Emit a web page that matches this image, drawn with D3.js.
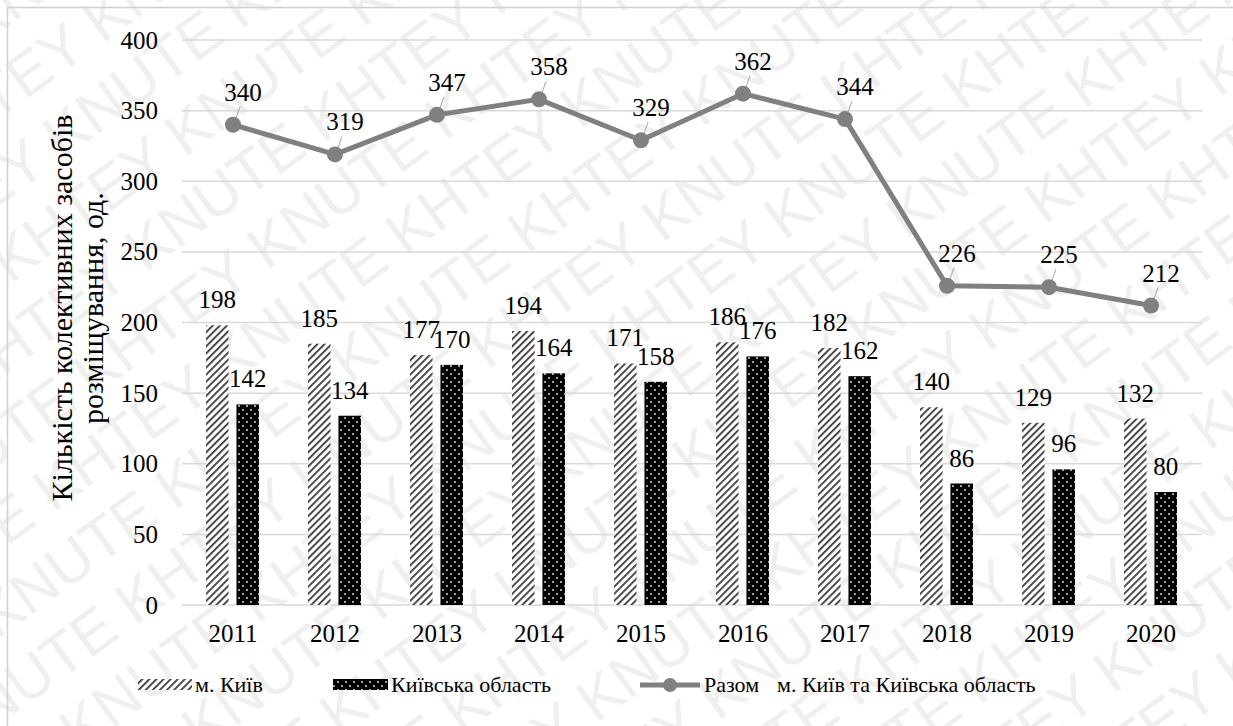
<!DOCTYPE html>
<html>
<head>
<meta charset="utf-8">
<script src="https://cdn.jsdelivr.net/npm/d3@7"></script>
<style>
  body { margin: 0; background: #fff; }
  svg { display: block; }
</style>
</head>
<body>
<div id="chart"></div>
<script>
// data
const years = ["2011", "2012", "2013", "2014", "2015", "2016", "2017", "2018", "2019", "2020"];
const kyiv = [198, 185, 177, 194, 171, 186, 182, 140, 129, 132];
const oblast = [142, 134, 170, 164, 158, 176, 162, 86, 96, 80];
const total = [340, 319, 347, 358, 329, 362, 344, 226, 225, 212];
const yTicks = [0, 50, 100, 150, 200, 250, 300, 350, 400];
const seriesNames = ["м. Київ", "Київська область"];
const lineName = "Разом";
const lineNote = "м. Київ та Київська область";
const yTitle = ["Кількість колективних засобів", "розміщування, од."];

const W = 1233, H = 726;
const serif = "'Liberation Serif', 'Times New Roman', serif";

const svg = d3.select("#chart").append("svg")
  .attr("width", W).attr("height", H)
  .style("font-family", serif);

// patterns
const defs = svg.append("defs");
const hatch = defs.append("pattern")
  .attr("id", "hatch").attr("patternUnits", "userSpaceOnUse")
  .attr("width", 5).attr("height", 5)
  .attr("patternTransform", "rotate(45)");
hatch.append("rect").attr("width", 5).attr("height", 5).attr("fill", "#fff");
hatch.append("rect").attr("width", 1.8).attr("height", 5).attr("fill", "#3a3a3a");

const dots = defs.append("pattern")
  .attr("id", "dots").attr("patternUnits", "userSpaceOnUse")
  .attr("width", 8).attr("height", 8);
dots.append("rect").attr("width", 8).attr("height", 8).attr("fill", "#000");
[[2, 2], [6, 6]].forEach(p => {
  dots.append("circle").attr("cx", p[0]).attr("cy", p[1]).attr("r", 1).attr("fill", "#d8d8d8");
});

// watermark
const wm = svg.append("g")
  .attr("transform", `translate(${W / 2},${H / 2}) rotate(-36)`)
  .style("font-family", "'Liberation Sans', sans-serif")
  .attr("font-size", 60)
  .attr("fill", "#efefef");
const wmText = d3.range(14).map(i => i % 2 ? "KHTEY" : "KNUTE").join(" ");
d3.range(-9, 10).forEach(i => {
  wm.append("text")
    .attr("x", -1100 + (i % 2) * 100)
    .attr("y", i * 70)
    .text(wmText);
});

// frame
svg.append("rect")
  .attr("x", 7.5).attr("y", 7.5).attr("width", 1240).attr("height", 740)
  .attr("fill", "none").attr("stroke", "#d0d0d0").attr("stroke-width", 1.5);

const x = d3.scaleBand().domain(years).range([182, 1202]);
const y = d3.scaleLinear().domain([0, 400]).range([605, 40]);
const x1 = d3.scaleBand().domain(seriesNames).range([-27, 26]).paddingInner(0.26);

// gridlines
svg.append("g").selectAll("line").data(yTicks).join("line")
  .attr("x1", 182).attr("x2", 1202)
  .attr("y1", d => y(d)).attr("y2", d => y(d))
  .attr("stroke", "#d9d9d9").attr("stroke-width", 1.5);

// y axis labels
const yAxis = svg.append("g")
  .attr("transform", "translate(170,0)")
  .call(d3.axisLeft(y).tickValues(yTicks).tickSize(0).tickPadding(12));
yAxis.select(".domain").remove();
yAxis.attr("font-family", null).attr("font-size", 25);
yAxis.selectAll("text").attr("fill", "#000");

// x axis labels
const xAxis = svg.append("g")
  .attr("transform", "translate(0,605)")
  .call(d3.axisBottom(x).tickSize(0).tickPadding(19));
xAxis.select(".domain").remove();
xAxis.attr("font-family", null).attr("font-size", 25);
xAxis.selectAll("text").attr("fill", "#000");

// y title
const yt = svg.append("text")
  .attr("transform", "translate(0,308) rotate(-90)")
  .attr("text-anchor", "middle")
  .attr("font-size", 30);
yt.append("tspan").attr("x", 0).attr("y", 72).text(yTitle[0]);
yt.append("tspan").attr("x", 0).attr("y", 103).text(yTitle[1]);

// bars
const rows = years.map((yr, i) => ({ yr, vals: [kyiv[i], oblast[i]] }));
const fills = ["url(#hatch)", "url(#dots)"];
const grp = svg.append("g").selectAll("g").data(rows).join("g")
  .attr("transform", d => `translate(${x(d.yr) + x.bandwidth() / 2},0)`);
grp.selectAll("rect").data(d => d.vals.map((v, k) => ({ v, k }))).join("rect")
  .attr("x", d => x1(seriesNames[d.k]))
  .attr("width", x1.bandwidth())
  .attr("y", d => y(d.v))
  .attr("height", d => y(0) - y(d.v))
  .attr("fill", d => fills[d.k]);
grp.selectAll("text").data(d => d.vals.map((v, k) => ({ v, k }))).join("text")
  .attr("x", d => x1(seriesNames[d.k]) + x1.bandwidth() / 2)
  .attr("y", d => y(d.v) - 17)
  .attr("text-anchor", "middle")
  .attr("font-size", 25)
  .text(d => d.v);

// total line
const cx = d => x(d) + x.bandwidth() / 2;
const pts = years.map((yr, i) => [cx(yr), y(total[i])]);
svg.append("path")
  .attr("d", d3.line()(pts))
  .attr("fill", "none").attr("stroke", "#808080").attr("stroke-width", 5)
  .attr("stroke-linejoin", "round");

// leader lines + labels
const lab = svg.append("g");
pts.forEach((p, i) => {
  lab.append("line")
    .attr("x1", p[0] + 2).attr("y1", p[1] - 4)
    .attr("x2", p[0] + 7).attr("y2", p[1] - 18)
    .attr("stroke", "#a6a6a6").attr("stroke-width", 1);
});
svg.append("g").selectAll("circle").data(pts).join("circle")
  .attr("cx", d => d[0]).attr("cy", d => d[1]).attr("r", 8)
  .attr("fill", "#808080");
lab.selectAll("text").data(pts).join("text")
  .attr("x", d => d[0] + 10).attr("y", d => d[1] - 24)
  .attr("text-anchor", "middle")
  .attr("font-size", 25)
  .text((d, i) => total[i]);

// legend
const leg = svg.append("g").attr("font-size", 22);
leg.append("rect").attr("x", 138).attr("y", 679).attr("width", 54).attr("height", 11).attr("fill", "url(#hatch)");
leg.append("text").attr("x", 195).attr("y", 692).text(seriesNames[0]);
leg.append("rect").attr("x", 333).attr("y", 679).attr("width", 55).attr("height", 11).attr("fill", "url(#dots)");
leg.append("text").attr("x", 391).attr("y", 692).text(seriesNames[1]);
leg.append("line").attr("x1", 640).attr("x2", 700).attr("y1", 685).attr("y2", 685)
  .attr("stroke", "#808080").attr("stroke-width", 5);
leg.append("circle").attr("cx", 670).attr("cy", 685).attr("r", 7).attr("fill", "#808080");
leg.append("text").attr("x", 704).attr("y", 692).text(lineName);
leg.append("text").attr("x", 777).attr("y", 692).text(lineNote);
</script>
</body>
</html>
